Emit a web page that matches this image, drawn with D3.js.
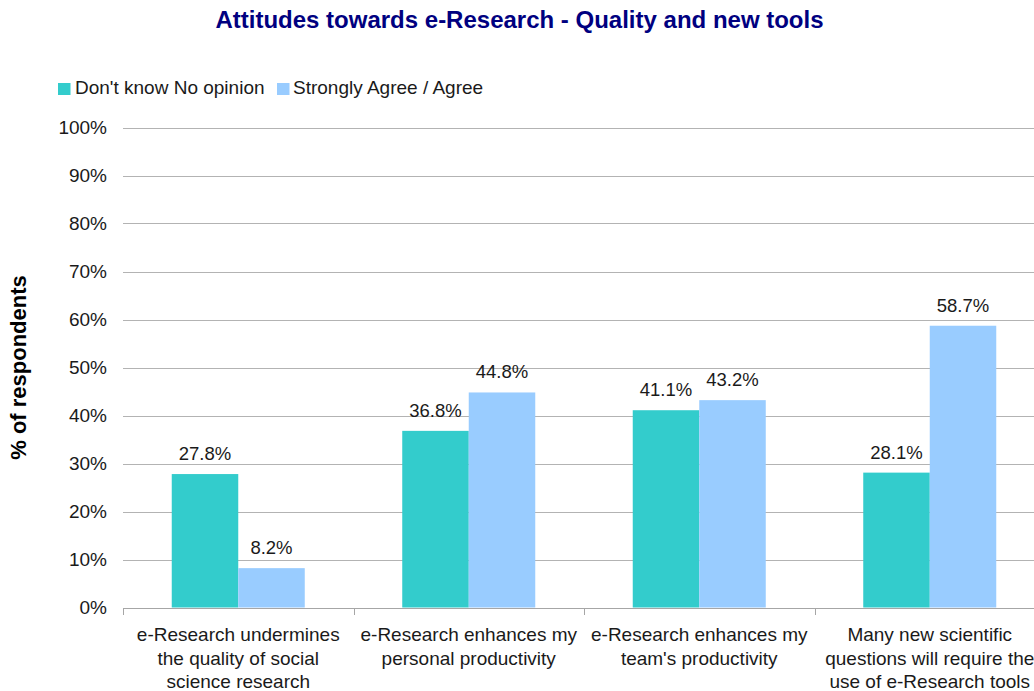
<!DOCTYPE html>
<html>
<head>
<meta charset="utf-8">
<script src="https://cdn.jsdelivr.net/npm/d3@7/dist/d3.min.js"></script>
<style>
  html, body { margin: 0; padding: 0; background: #fff; }
  svg { display: block; font-family: "Liberation Sans", Arial, sans-serif; }
</style>
</head>
<body>
<svg id="chart" width="1034" height="691"></svg>
<script>
// Survey statements (x categories), wrapped into display lines
const categories = ["undermines", "personal", "team", "newQuestions"];
const categoryLines = [
  ["e-Research undermines", "the quality of social", "science research"],
  ["e-Research enhances my", "personal productivity"],
  ["e-Research enhances my", "team's productivity"],
  ["Many new scientific", "questions will require the", "use of e-Research tools"]
];
const seriesNames = ["Don't know No opinion", "Strongly Agree / Agree"];
const dontKnow = [27.8, 36.8, 41.1, 28.1];
const agree = [8.2, 44.8, 43.2, 58.7];
const yTicks = [0, 10, 20, 30, 40, 50, 60, 70, 80, 90, 100];
const colors = ["#33CCCC", "#99CCFF"];

const svg = d3.select("#chart");
const plotLeft = 123, plotTop = 127.5, plotBottom = 607.5;
const catStep = 230.5;

const x0 = d3.scaleBand().domain(categories)
  .range([plotLeft, plotLeft + catStep * categories.length])
  .paddingInner(0).paddingOuter(0);
const x1 = d3.scaleBand().domain([0, 1])
  .range([0, x0.bandwidth()])
  .paddingInner(0).paddingOuter(0.733);
const y = d3.scaleLinear().domain([0, 100]).range([plotBottom, plotTop]);

// Title
svg.append("text")
  .attr("x", 519.5).attr("y", 28)
  .attr("text-anchor", "middle")
  .attr("font-size", 24).attr("font-weight", "bold")
  .attr("fill", "#000080")
  .text("Attitudes towards e-Research - Quality and new tools");

// Legend
const legendItems = [
  { x: 58, tx: 75 },
  { x: 277, tx: 293 }
];
seriesNames.forEach((name, i) => {
  svg.append("rect")
    .attr("x", legendItems[i].x).attr("y", 83)
    .attr("width", 12.5).attr("height", 12)
    .attr("fill", colors[i]);
  svg.append("text")
    .attr("x", legendItems[i].tx).attr("y", 93.5)
    .attr("font-size", 19).attr("fill", "#1a1a1a")
    .text(name);
});

// Horizontal gridlines
svg.append("g")
  .selectAll("line")
  .data(yTicks)
  .join("line")
  .attr("x1", plotLeft).attr("x2", 1034)
  .attr("y1", d => Math.round(y(d)) + 0.5).attr("y2", d => Math.round(y(d)) + 0.5)
  .attr("stroke", "#b3b3b3").attr("stroke-width", 1);

// Y tick labels
svg.append("g")
  .selectAll("text")
  .data(yTicks)
  .join("text")
  .attr("x", 107).attr("y", d => y(d))
  .attr("dy", "0.36em")
  .attr("text-anchor", "end")
  .attr("font-size", 19).attr("fill", "#1a1a1a")
  .text(d => d + "%");

// Y axis title
svg.append("text")
  .attr("transform", `translate(26,${(plotTop + plotBottom) / 2}) rotate(-90)`)
  .attr("text-anchor", "middle")
  .attr("font-size", 22).attr("font-weight", "bold")
  .attr("fill", "#000")
  .text("% of respondents");

// Bars
const groups = svg.append("g")
  .selectAll("g")
  .data(categories.map((c, i) => ({ cat: c, values: [dontKnow[i], agree[i]] })))
  .join("g")
  .attr("transform", d => `translate(${x0(d.cat)},0)`);

groups.selectAll("rect")
  .data(d => d.values.map((v, s) => ({ v, s })))
  .join("rect")
  .attr("x", d => x1(d.s))
  .attr("width", x1.bandwidth())
  .attr("y", d => y(d.v))
  .attr("height", d => y(0) - y(d.v))
  .attr("fill", d => colors[d.s]);

// Value labels
groups.selectAll("text")
  .data(d => d.values.map((v, s) => ({ v, s })))
  .join("text")
  .attr("x", d => x1(d.s) + x1.bandwidth() / 2)
  .attr("y", d => y(d.v) - 14)
  .attr("text-anchor", "middle")
  .attr("font-size", 18.5).attr("fill", "#1a1a1a")
  .text(d => d.v.toFixed(1) + "%");

// X axis baseline and category separators
svg.append("line")
  .attr("x1", plotLeft).attr("x2", 1034)
  .attr("y1", Math.round(y(0)) + 0.5).attr("y2", Math.round(y(0)) + 0.5)
  .attr("stroke", "#a6a6a6");
svg.append("g")
  .selectAll("line")
  .data(categories)
  .join("line")
  .attr("x1", d => Math.round(x0(d)) + 0.5).attr("x2", d => Math.round(x0(d)) + 0.5)
  .attr("y1", Math.round(y(0))).attr("y2", Math.round(y(0)) + 7)
  .attr("stroke", "#a6a6a6");

// Category labels
const xl = svg.append("g")
  .selectAll("text")
  .data(categories)
  .join("text")
  .attr("text-anchor", "middle")
  .attr("font-size", 19).attr("fill", "#1a1a1a");
xl.each(function (d, i) {
  const cx = x0(d) + x0.bandwidth() / 2;
  d3.select(this).selectAll("tspan")
    .data(categoryLines[i])
    .join("tspan")
    .attr("x", cx)
    .attr("y", (t, k) => 641 + k * 23.5)
    .text(t => t);
});
</script>
</body>
</html>
